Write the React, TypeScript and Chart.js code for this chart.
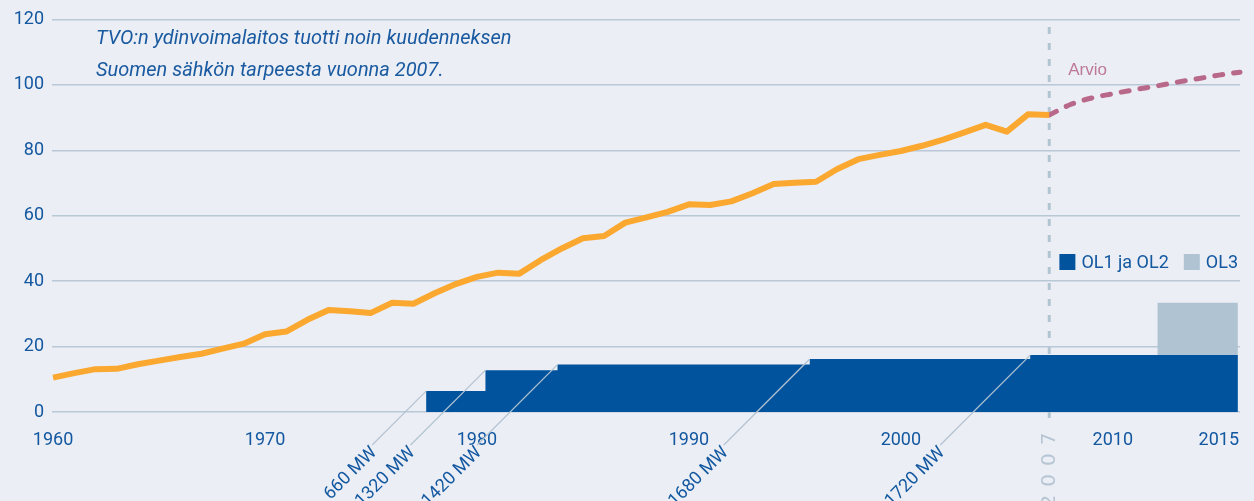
import React, { useEffect, useRef } from 'react';
import { Chart, registerables } from 'chart.js';

Chart.register(...registerables);

// ---- data ----
const consumptionYears = [
  1960, 1961, 1962, 1963, 1964, 1965, 1966, 1967, 1968, 1969,
  1970, 1971, 1972, 1973, 1974, 1975, 1976, 1977, 1978, 1979,
  1980, 1981, 1982, 1983, 1984, 1985, 1986, 1987, 1988, 1989,
  1990, 1991, 1992, 1993, 1994, 1995, 1996, 1997, 1998, 1999,
  2000, 2001, 2002, 2003, 2004, 2005, 2006, 2007,
];
const consumptionTWh = [
  10.5, 11.9, 13.1, 13.2, 14.6, 15.7, 16.8, 17.8, 19.4, 20.9,
  23.8, 24.6, 28.2, 31.2, 30.8, 30.3, 33.4, 33.1, 36.3, 39.1,
  41.3, 42.6, 42.3, 46.4, 50.0, 53.1, 53.8, 57.9, 59.5, 61.2,
  63.5, 63.3, 64.4, 66.9, 69.7, 70.1, 70.4, 74.3, 77.3, 78.6,
  79.8, 81.4, 83.3, 85.5, 87.8, 85.7, 91.0, 90.8,
];
const forecastYears = [2007, 2008, 2009, 2010, 2011, 2012, 2013, 2014, 2015, 2016];
const forecastTWh = [90.8, 94.0, 96.0, 97.3, 98.5, 99.6, 100.8, 101.9, 103.0, 103.9];

const capacityYears = [1977.6, 1980.4, 1983.8, 1995.7, 2006.1, 2015.9];
const capacityTWh = [6.4, 12.8, 14.5, 16.2, 17.4, 17.4];
const capacityLabels = ['660 MW', '1320 MW', '1420 MW', '1680 MW', '1720 MW'];

const ol3Years = [2012.1, 2015.9];
const ol3TWh = [33.4, 33.4];

const xTickYears = [1960, 1970, 1980, 1990, 2000, 2010, 2015];
const noteLines = [
  'TVO:n ydinvoimalaitos tuotti noin kuudenneksen',
  'Suomen sähkön tarpeesta vuonna 2007.',
];
const forecastLabel = 'Arvio';
const markerYear = 2007;
const seriesNames = ['OL1 ja OL2', 'OL3', 'Kulutus', 'Arvio'];

// ---- styles ----
const BG = '#EBEEF4';
const DARK = '#02539E';
const LIGHT = '#B0C3D2';
const ORANGE = '#FBA830';
const PINK = '#B8698A';
const TEXT = '#1358A0';
const GRID = '#B9C8D6';
const NARROW = "'Liberation Sans Narrow', 'Roboto', sans-serif";

export default function App() {
  const ref = useRef<HTMLCanvasElement | null>(null);

  useEffect(() => {
    const canvas = ref.current;
    if (!canvas) return;

    const bgPlugin = {
      id: 'bg',
      beforeDraw(chart: any) {
        const { ctx, width, height } = chart;
        ctx.save();
        ctx.fillStyle = BG;
        ctx.fillRect(0, 0, width, height);
        ctx.restore();
      },
    };

    const markerPlugin = {
      id: 'marker',
      beforeDatasetsDraw(chart: any) {
        const { ctx } = chart;
        const x = chart.scales.x.getPixelForValue(markerYear);
        ctx.save();
        ctx.strokeStyle = '#B3C4D3';
        ctx.lineWidth = 3;
        ctx.setLineDash([7, 9]);
        ctx.beginPath();
        ctx.moveTo(x, 27);
        ctx.lineTo(x, 426);
        ctx.stroke();
        ctx.setLineDash([]);
        // vertical year text
        ctx.fillStyle = '#B5C5D3';
        ctx.font = "20px 'DejaVu Sans', sans-serif";
        ctx.textAlign = 'center';
        ctx.textBaseline = 'middle';
        const chars = String(markerYear).split('').reverse();
        chars.forEach((ch, i) => {
          ctx.save();
          ctx.translate(x + 1, 439 + i * 20.7);
          ctx.rotate(-Math.PI / 2);
          ctx.fillText(ch, 0, 0);
          ctx.restore();
        });
        ctx.restore();
      },
    };

    const annotationPlugin = {
      id: 'annotations',
      afterDatasetsDraw(chart: any) {
        const { ctx, chartArea } = chart;
        const xs = chart.scales.x;
        const ys = chart.scales.y;
        ctx.save();
        // capacity leader lines + rotated labels
        capacityLabels.forEach((label, i) => {
          const px = xs.getPixelForValue(capacityYears[i]);
          const py = ys.getPixelForValue(capacityTWh[i]);
          const endY = 445;
          const endX = px - (endY - py);
          ctx.strokeStyle = '#B3C3D2';
          ctx.lineWidth = 1.2;
          ctx.beginPath();
          ctx.moveTo(px, py);
          ctx.lineTo(endX, endY);
          ctx.stroke();
          ctx.save();
          ctx.translate(endX, endY);
          ctx.rotate(-Math.PI / 4);
          ctx.fillStyle = TEXT;
          ctx.font = `18px ${NARROW}`;
          ctx.textAlign = 'right';
          ctx.textBaseline = 'middle';
          ctx.fillText(label, -2, 5);
          ctx.restore();
        });

        // note text
        ctx.fillStyle = '#1A5AA0';
        ctx.font = `italic 20px ${NARROW}`;
        ctx.textAlign = 'left';
        ctx.textBaseline = 'alphabetic';
        ctx.fillText(noteLines[0], 96, 44);
        ctx.fillText(noteLines[1], 96, 76);

        // forecast label
        ctx.fillStyle = '#BE7897';
        ctx.font = "17px 'Liberation Sans', sans-serif";
        ctx.fillText(forecastLabel, xs.getPixelForValue(markerYear) + 19, 75);

        // legend (bar datasets only)
        ctx.font = `18px ${NARROW}`;
        ctx.textBaseline = 'middle';
        const items = [chart.data.datasets[0], chart.data.datasets[1]];
        const sq = 16;
        const gapText = 6;
        const gapItem = 15;
        const widths = items.map((d: any) => ctx.measureText(d.label).width);
        let total = 0;
        widths.forEach((w: number, i: number) => {
          total += sq + gapText + w + (i < widths.length - 1 ? gapItem : 0);
        });
        let lx = chartArea.right - 2 - total;
        const ly = 262;
        items.forEach((d: any, i: number) => {
          ctx.fillStyle = d.backgroundColor;
          ctx.fillRect(lx, ly - sq / 2, sq, sq);
          ctx.fillStyle = TEXT;
          ctx.fillText(d.label, lx + sq + gapText, ly + 1);
          lx += sq + gapText + widths[i] + gapItem;
        });
        ctx.restore();
      },
    };

    const chart = new Chart(canvas, {
      type: 'line',
      data: {
        datasets: [
          {
            label: seriesNames[0],
            data: capacityYears.map((x, i) => ({ x, y: capacityTWh[i] })),
            stepped: true,
            fill: 'origin',
            backgroundColor: DARK,
            borderColor: 'rgba(0,0,0,0)',
            borderWidth: 0,
            pointRadius: 0,
            order: 1,
          },
          {
            label: seriesNames[1],
            data: ol3Years.map((x, i) => ({ x, y: ol3TWh[i] })),
            stepped: true,
            fill: 'origin',
            backgroundColor: LIGHT,
            borderColor: 'rgba(0,0,0,0)',
            borderWidth: 0,
            pointRadius: 0,
            order: 2,
          },
          {
            label: seriesNames[2],
            data: consumptionYears.map((x, i) => ({ x, y: consumptionTWh[i] })),
            borderColor: ORANGE,
            borderWidth: 6,
            pointRadius: 0,
            fill: false,
            tension: 0,
            borderJoinStyle: 'round',
            order: 0,
          },
          {
            label: seriesNames[3],
            data: forecastYears.map((x, i) => ({ x, y: forecastTWh[i] })),
            borderColor: PINK,
            borderWidth: 5,
            borderDash: [8, 11],
            borderCapStyle: 'round',
            pointRadius: 0,
            fill: false,
            cubicInterpolationMode: 'monotone',
            clip: false,
            order: 0,
          },
        ] as any,
      },
      options: {
        responsive: false,
        animation: false,
        layout: { padding: { top: 19.5, right: 14, left: 0, bottom: 0 } },
        plugins: {
          legend: { display: false },
          tooltip: { enabled: false },
        },
        scales: {
          x: {
            type: 'linear',
            min: 1959.95,
            max: 2016,
            grid: { display: false },
            border: { display: false },
            afterBuildTicks: (scale: any) => {
              scale.ticks = xTickYears.map((v) => ({ value: v }));
            },
            afterFit: (scale: any) => {
              scale.height = 89;
            },
            ticks: {
              autoSkip: false,
              maxRotation: 0,
              padding: 10,
              color: TEXT,
              font: { family: NARROW, size: 18 },
              callback: (v: any) => String(v),
            },
          },
          y: {
            min: 0,
            max: 120,
            grid: { color: GRID, lineWidth: 1.5, drawTicks: false },
            border: { display: false },
            afterFit: (scale: any) => {
              scale.width = 52;
            },
            ticks: {
              stepSize: 20,
              padding: 8,
              color: TEXT,
              font: { family: NARROW, size: 18 },
            },
          },
        },
      } as any,
      plugins: [bgPlugin, markerPlugin, annotationPlugin],
    });

    return () => chart.destroy();
  }, []);

  return (
    <div
      style={{
        position: 'fixed',
        left: 0,
        top: 0,
        width: 1254,
        height: 501,
        background: BG,
        overflow: 'hidden',
      }}
    >
      <canvas ref={ref} width={1254} height={501} style={{ display: 'block' }} />
    </div>
  );
}
